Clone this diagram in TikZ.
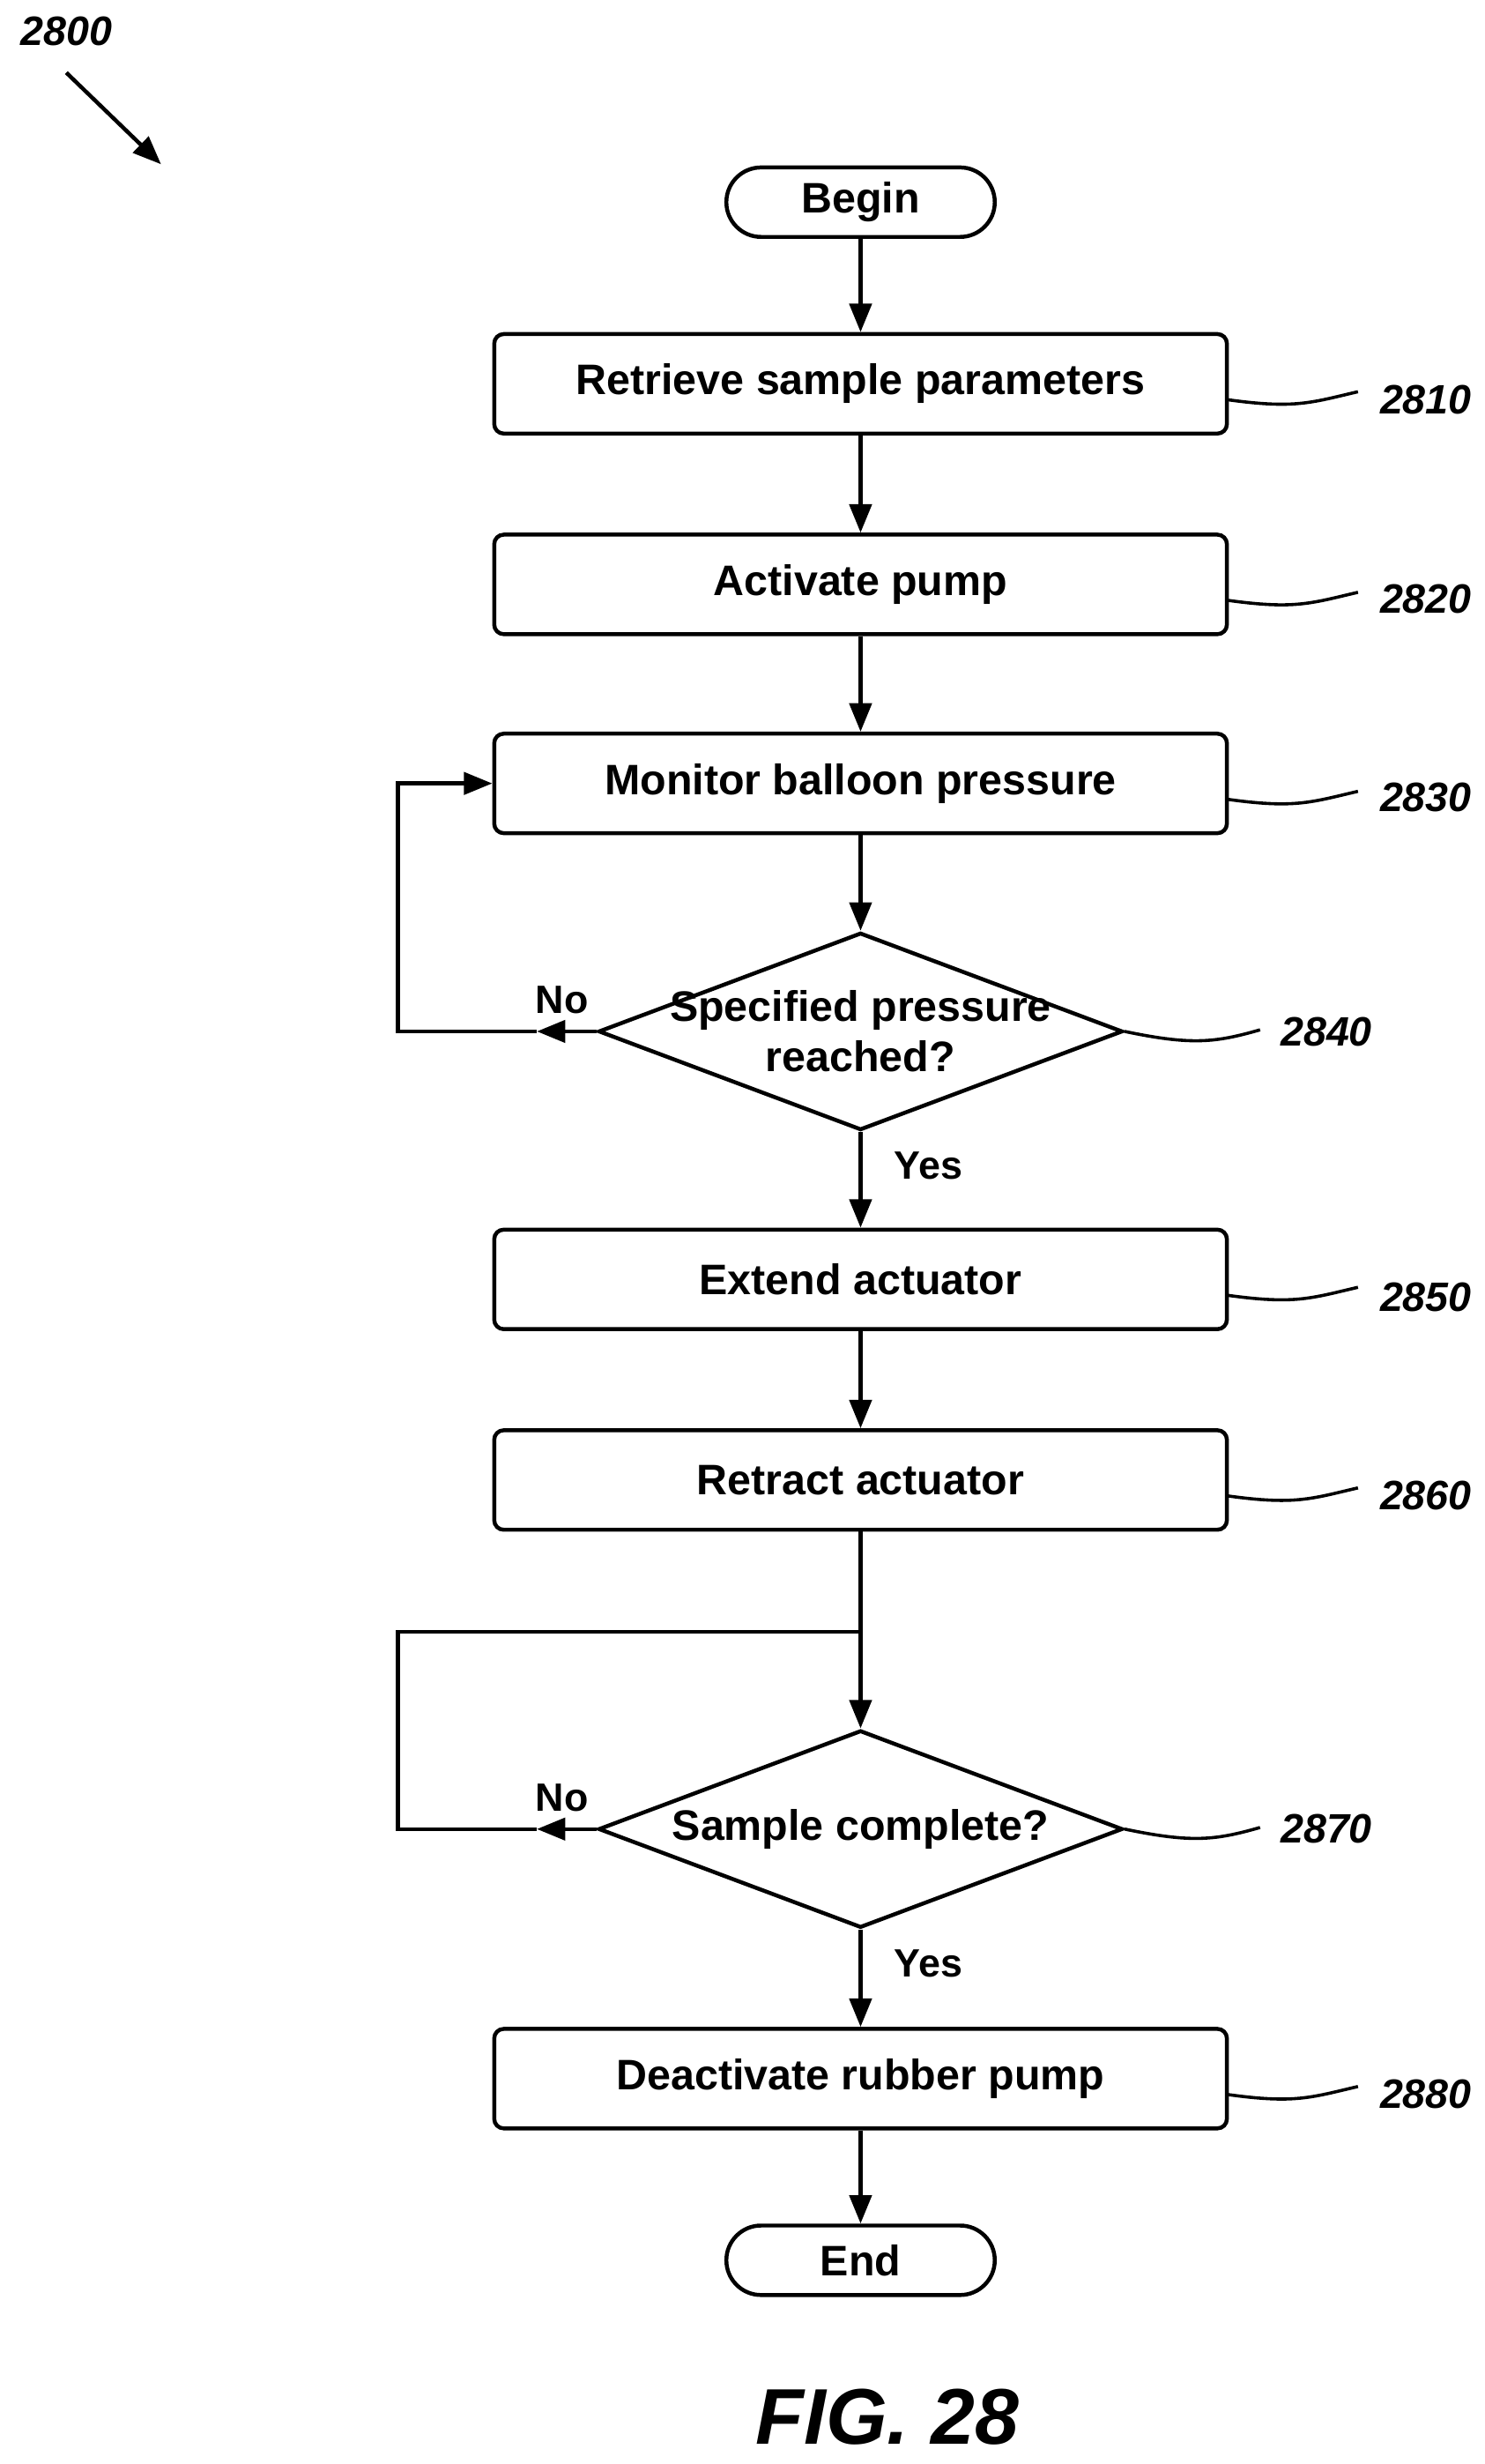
\documentclass[tikz,border=0pt]{standalone}
\usepackage{fontspec}
\setmainfont{Liberation Sans}
\usetikzlibrary{shapes.geometric,arrows.meta,decorations.markings}
\begin{document}
\begin{tikzpicture}[x=1pt,y=-1pt,
  box/.style={draw,line width=2.5pt,rounded corners=6pt,minimum width=464pt,minimum height=63pt,font=\fontsize{27}{30}\selectfont\bfseries},
  term/.style={draw,line width=2.5pt,rounded corners=22pt,minimum width=170pt,minimum height=44pt,font=\fontsize{27}{30}\selectfont\bfseries},
  dia/.style={draw,line width=2.5pt,diamond,aspect=2.65,minimum width=332pt,minimum height=125pt,inner sep=0pt},
  dtxt/.style={align=center,inner sep=0pt,font=\fontsize{27}{32}\selectfont\bfseries},
  conn/.style={line width=2.5pt,-{Triangle[length=18pt,width=14pt]}},
  ln/.style={line width=2.5pt},
  lead/.style={line width=2pt},
  ref/.style={font=\fontsize{26}{28}\selectfont\bfseries\itshape},
  yn/.style={font=\fontsize{25}{28}\selectfont\bfseries\rmfamily}]
\useasboundingbox (0,0) rectangle (940,1560);
\node[term] (b) at (545,128) {Begin};
\node[box] (s1) at (545,243) {Retrieve sample parameters};
\node[box] (s2) at (545,370) {Activate pump};
\node[box] (s3) at (545,496) {Monitor balloon pressure};
\node[dia] (d1) at (545,653) {};
\node[dtxt] (t1) at (545,653) {Specified pressure\\reached?};
\node[box] (s5) at (545,810) {Extend actuator};
\node[box] (s6) at (545,937) {Retract actuator};
\node[dia] (d2) at (545,1158) {};
\node[dtxt] (t2) at (545,1158) {Sample complete?};
\node[box] (s8) at (545,1316) {Deactivate rubber pump};
\node[term] (e) at (545,1431) {End};
\draw[conn] (b) -- (s1);
\draw[conn] (s1) -- (s2);
\draw[conn] (s2) -- (s3);
\draw[conn] (s3) -- (d1);
\draw[conn] (d1) -- (s5);
\draw[conn] (s5) -- (s6);
\draw[conn] (d2) -- (s8);
\draw[conn] (s8) -- (e);
\coordinate (j) at (545,1033);
\draw[ln] (s6) -- (j);
\draw[conn] (j) -- (d2.north);
\coordinate (a1) at (340,653);
\draw[conn] (d1.west) -- (a1);
\draw[conn] (a1) -- (252,653) -- (252,496) -- (s3.west);
\coordinate (a2) at (340,1158);
\draw[conn] (d2.west) -- (a2);
\draw[ln] (a2) -- (252,1158) -- (252,1033) -- (j);
\node[yn] at (356,633) {No};
\node[yn] at (356,1138) {No};
\node[yn] at (588,738) {Yes};
\node[yn] at (588,1243) {Yes};
\foreach \n/\y in {s1/253,s2/380,s3/506,s5/820,s6/947,s8/1326}{
  \draw[lead] (777,\y) .. controls (820,\y+6) and (830,\y+2) .. (860,\y-5);
}
\draw[lead] (d1.east) .. controls (755,662) and (770,660) .. (798,652);
\draw[lead] (d2.east) .. controls (755,1167) and (770,1165) .. (798,1157);
\node[ref] at (903,253) {2810};
\node[ref] at (903,379) {2820};
\node[ref] at (903,505) {2830};
\node[ref] at (840,653) {2840};
\node[ref] at (903,821) {2850};
\node[ref] at (903,947) {2860};
\node[ref] at (840,1158) {2870};
\node[ref] at (903,1326) {2880};
\node[ref] (lab) at (42,20) {2800};
\coordinate (lt) at (102,104);
\draw[conn] (42,46) -- (lt);
\node[font=\fontsize{50}{54}\selectfont\bfseries\itshape] at (562,1530) {FIG. 28};
\end{tikzpicture}
\end{document}
